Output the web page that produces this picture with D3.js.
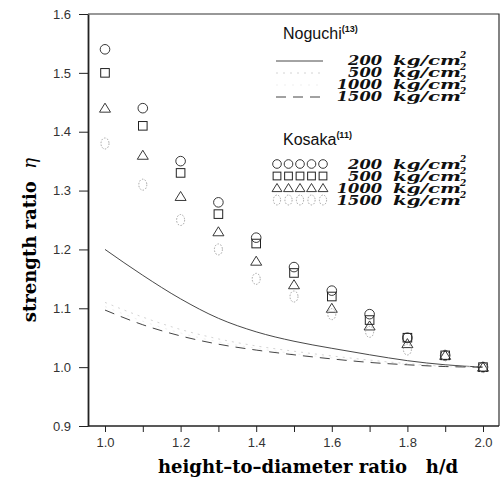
<!DOCTYPE html>
<html>
<head>
<meta charset="utf-8">
<script src="https://cdn.jsdelivr.net/npm/d3@7"></script>
<style>
  body { margin: 0; background: #fff; }
  svg { display: block; }
  .tick text { font-family: "Liberation Sans", Arial, sans-serif; font-size: 13px; fill: #333; }
  .axis path, .axis line { stroke: #222; }
  .lg { font-family: "DejaVu Serif", serif; font-weight: bold; font-style: italic; font-size: 13px; fill: #111; }
</style>
</head>
<body>
<svg id="chart" width="504" height="482"></svg>
<script>
// h/d values
const hd = [1.0, 1.1, 1.2, 1.3, 1.4, 1.5, 1.6, 1.7, 1.8, 1.9, 2.0];

// Kosaka measurements (symbols)
const kosaka200  = [1.54, 1.44, 1.35, 1.28, 1.22, 1.17, 1.13, 1.09, 1.05, 1.02, 1.00];
const kosaka500  = [1.50, 1.41, 1.33, 1.26, 1.21, 1.16, 1.12, 1.08, 1.05, 1.02, 1.00];
const kosaka1000 = [1.44, 1.36, 1.29, 1.23, 1.18, 1.14, 1.10, 1.07, 1.04, 1.02, 1.00];
const kosaka1500 = [1.38, 1.31, 1.25, 1.20, 1.15, 1.12, 1.09, 1.06, 1.03, 1.02, 1.00];

// Noguchi curves
const noguchi200  = [1.200, 1.156, 1.116, 1.083, 1.060, 1.044, 1.032, 1.021, 1.011, 1.004, 1.000];
const noguchi500  = [1.110, 1.085, 1.064, 1.048, 1.036, 1.027, 1.019, 1.012, 1.006, 1.002, 1.000];
const noguchi1000 = [1.103, 1.078, 1.058, 1.043, 1.032, 1.023, 1.016, 1.010, 1.005, 1.001, 1.000];
const noguchi1500 = [1.097, 1.072, 1.053, 1.039, 1.029, 1.021, 1.014, 1.008, 1.004, 1.001, 1.000];

const xTicks = [1.0, 1.1, 1.2, 1.3, 1.4, 1.5, 1.6, 1.7, 1.8, 1.9, 2.0];
const xLabels = [1.0, 1.2, 1.4, 1.6, 1.8, 2.0];
const yTicks = [0.9, 1.0, 1.1, 1.2, 1.3, 1.4, 1.5, 1.6];
const loads = ["200", "500", "1000", "1500"];

const plotLeft = 88, plotRight = 499, plotTop = 14, plotBottom = 426;

const svg = d3.select("#chart");

const x = d3.scaleLinear().domain([1, 2]).range([105, 483]);
const y = d3.scaleLinear().domain([0.9, 1.6]).range([plotBottom, plotTop]);

// frame (top + right)
svg.append("path")
    .attr("d", `M${plotLeft},${plotTop}H${plotRight}V${plotBottom}`)
    .attr("fill", "none")
    .attr("stroke", "#333")
    .attr("stroke-width", 1.2);

// axes
const yAxis = svg.append("g")
    .attr("class", "axis")
    .attr("transform", `translate(${plotLeft},0)`)
    .call(d3.axisLeft(y).tickValues(yTicks).tickFormat(d3.format(".1f")).tickSize(9).tickPadding(8).tickSizeOuter(0));
yAxis.select(".domain").attr("stroke-width", 1.8);

const xAxis = svg.append("g")
    .attr("class", "axis")
    .attr("transform", `translate(0,${plotBottom})`)
    .call(d3.axisBottom(x).tickValues(xTicks)
        .tickFormat(d => xLabels.some(v => Math.abs(v - d) < 1e-9) ? d3.format(".1f")(d) : "")
        .tickSize(6).tickPadding(6).tickSizeOuter(0));
xAxis.select(".domain").attr("d", `M${plotLeft},0H${plotRight}`).attr("stroke-width", 1.6);

// axis titles
svg.append("text")
    .attr("x", 308).attr("y", 473)
    .attr("text-anchor", "middle")
    .style("white-space", "pre")
    .style("font-family", "'DejaVu Serif', serif").style("font-weight", "bold").style("font-size", "18px")
    .text("height\u2013to\u2013diameter ratio   h/d");

svg.append("text")
    .attr("transform", "translate(36,240) rotate(-90)")
    .attr("text-anchor", "middle")
    .style("white-space", "pre")
    .style("font-family", "'DejaVu Serif', serif").style("font-weight", "bold").style("font-size", "18px")
    .text("strength ratio  ")
    .append("tspan").style("font-style", "italic").style("font-weight", "normal").text("\u03B7");

// Noguchi curves
const line = d3.line().x(d => x(d[0])).y(d => y(d[1])).curve(d3.curveMonotoneX);
const nogSeries = [
    { vals: noguchi200,  stroke: "#333", width: 0.9, dash: null },
    { vals: noguchi500,  stroke: "#d4d4d4", width: 1, dash: "2,5" },
    { vals: noguchi1000, stroke: "#efefef", width: 1, dash: "2,6" },
    { vals: noguchi1500, stroke: "#444", width: 1, dash: "10,7" }
];
nogSeries.forEach(s => {
    svg.append("path")
        .attr("d", line(hd.map((h, i) => [h, s.vals[i]])))
        .attr("fill", "none")
        .attr("stroke", s.stroke)
        .attr("stroke-width", s.width)
        .attr("stroke-dasharray", s.dash);
});

// symbols
function drawSymbol(g, kind, cx, cy, sz = 1) {
    if (kind === 0) {
        g.append("circle").attr("cx", cx).attr("cy", cy).attr("r", 4.8 * sz)
            .attr("fill", "none").attr("stroke", "#222").attr("stroke-width", 0.9);
    } else if (kind === 1) {
        const h = 4.3 * sz;
        g.append("rect").attr("x", cx - h).attr("y", cy - h).attr("width", 2 * h).attr("height", 2 * h)
            .attr("fill", "none").attr("stroke", "#222").attr("stroke-width", 1);
    } else if (kind === 2) {
        g.append("path").attr("d", `M${cx},${cy - 5 * sz}L${cx + 5.5 * sz},${cy + 4 * sz}L${cx - 5.5 * sz},${cy + 4 * sz}Z`)
            .attr("fill", "none").attr("stroke", "#222").attr("stroke-width", 0.9);
    } else {
        g.append("ellipse").attr("cx", cx).attr("cy", cy).attr("rx", 4 * sz).attr("ry", 5.5 * sz)
            .attr("fill", "none").attr("stroke", "#999").attr("stroke-width", 0.9).attr("stroke-dasharray", "1.5,1.5");
    }
}

const kosSeries = [kosaka200, kosaka500, kosaka1000, kosaka1500];
const pts = svg.append("g");
kosSeries.forEach((vals, k) => {
    hd.forEach((h, i) => drawSymbol(pts, k, x(h), y(vals[i])));
});

// legend
const legend = svg.append("g");

function legendTitle(name, sup, ty) {
    const t = legend.append("text").attr("x", 283).attr("y", ty)
        .style("font-family", "'Liberation Sans', Arial, sans-serif").style("font-size", "16px").style("fill", "#111")
        .text(name);
    t.append("tspan").attr("dy", -7).style("font-size", "9px").style("font-weight", "bold").text(sup);
}

function legendRow(label, ty) {
    const w = label.length * 11.3;
    legend.append("text").attr("class", "lg")
        .attr("x", 382 - w).attr("y", ty)
        .attr("textLength", w).attr("lengthAdjust", "spacingAndGlyphs")
        .text(label);
    legend.append("text").attr("class", "lg")
        .attr("x", 393).attr("y", ty)
        .attr("textLength", 68).attr("lengthAdjust", "spacingAndGlyphs")
        .text("kg/cm");
    legend.append("text").attr("class", "lg")
        .attr("x", 460).attr("y", ty - 7)
        .style("font-size", "9px")
        .text("2");
}

legendTitle("Noguchi", "(13)", 39);
const nogRows = [65, 77, 89, 101];
nogRows.forEach((ty, i) => {
    legend.append("line")
        .attr("x1", 276).attr("x2", 323).attr("y1", ty - 4).attr("y2", ty - 4)
        .attr("stroke", nogSeries[i].stroke).attr("stroke-width", nogSeries[i].width)
        .attr("stroke-dasharray", nogSeries[i].dash);
    legendRow(loads[i], ty);
});

legendTitle("Kosaka", "(11)", 145);
const kosRows = [169, 181, 193, 205];
kosRows.forEach((ty, k) => {
    d3.range(5).forEach(j => drawSymbol(legend, k, 277 + j * 11.5, ty - 5, 0.9));
    legendRow(loads[k], ty);
});
</script>
</body>
</html>
